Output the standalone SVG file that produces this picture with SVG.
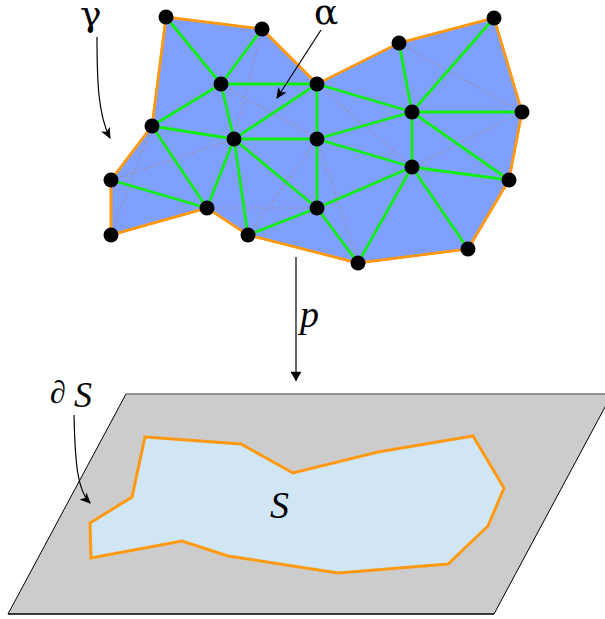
<svg xmlns="http://www.w3.org/2000/svg" width="605" height="619" viewBox="0 0 605 619">
<defs>
<style>
.tri{stroke:#11ee11;stroke-width:2.8;fill:none;stroke-linecap:round}
.dot{stroke:#9a90a0;stroke-width:1.2;stroke-dasharray:2.5,2.5;fill:none}
.bd{stroke:#ff9911;stroke-width:2.5;fill:#80a0ff;stroke-linejoin:round}
.node{fill:#000000}
.arr{stroke:#000000;stroke-width:1.2;fill:none}
</style>
<marker id="ah" viewBox="0 0 10 10" refX="9" refY="5" markerWidth="11" markerHeight="11" markerUnits="userSpaceOnUse" orient="auto">
<path d="M0,0.5 L10,5 L0,9.5 L2.5,5 Z" fill="#000000"/>
</marker>
<marker id="ah2" viewBox="0 0 10 12" refX="10" refY="6" markerWidth="13" markerHeight="11" markerUnits="userSpaceOnUse" orient="auto">
<path d="M0,0 L10,6 L0,12 Z" fill="#000000"/>
</marker>
</defs>
<g id="plane">
<polygon points="126,394 612,394 494,614 8,614" fill="#cccccc" stroke="none"/>
<line x1="126" y1="394" x2="612" y2="394" stroke="#777777" stroke-width="1.5"/>
<line x1="126" y1="394" x2="8" y2="614" stroke="#000000" stroke-width="1"/>
<line x1="612" y1="394" x2="494" y2="614" stroke="#000000" stroke-width="1"/>
<line x1="8" y1="614" x2="494" y2="614" stroke="#000000" stroke-width="1.5"/>
</g>
<g id="region-S">
<polygon points="145,437 241,444 293,473 378,452 473,436 504,488 488,526 448,564 338,573 228,556 182,541 91,558 90,523 132,497" fill="#d0e6f4" stroke="#ff9911" stroke-width="3" stroke-linejoin="miter"/>
</g>
<g id="mesh">
<polygon class="bd" points="166,17 262,29 317,84 399,43 494,18 522,112 509,180 468,249 358,263 248,235 207,208 111,235 111,180 152,126"/>
<g id="dotted-edges">
<line class="dot" x1="262" y1="29" x2="234" y2="139"/>
<line class="dot" x1="221" y1="84" x2="317" y2="139"/>
<line class="dot" x1="111" y1="180" x2="234" y2="139"/>
<line class="dot" x1="152" y1="126" x2="111" y2="235"/>
<line class="dot" x1="207" y1="208" x2="317" y2="208"/>
<line class="dot" x1="317" y1="139" x2="248" y2="235"/>
<line class="dot" x1="317" y1="84" x2="412" y2="167"/>
<line class="dot" x1="399" y1="43" x2="522" y2="112"/>
<line class="dot" x1="522" y1="112" x2="412" y2="167"/>
<line class="dot" x1="317" y1="139" x2="358" y2="263"/>
</g>
<g id="edges">
<line class="tri" x1="166" y1="17" x2="221" y2="84"/>
<line class="tri" x1="262" y1="29" x2="221" y2="84"/>
<line class="tri" x1="221" y1="84" x2="317" y2="84"/>
<line class="tri" x1="221" y1="84" x2="152" y2="126"/>
<line class="tri" x1="221" y1="84" x2="234" y2="139"/>
<line class="tri" x1="317" y1="84" x2="234" y2="139"/>
<line class="tri" x1="152" y1="126" x2="234" y2="139"/>
<line class="tri" x1="152" y1="126" x2="207" y2="208"/>
<line class="tri" x1="234" y1="139" x2="317" y2="139"/>
<line class="tri" x1="234" y1="139" x2="207" y2="208"/>
<line class="tri" x1="234" y1="139" x2="317" y2="208"/>
<line class="tri" x1="234" y1="139" x2="248" y2="235"/>
<line class="tri" x1="111" y1="180" x2="207" y2="208"/>
<line class="tri" x1="248" y1="235" x2="317" y2="208"/>
<line class="tri" x1="317" y1="208" x2="317" y2="139"/>
<line class="tri" x1="317" y1="139" x2="317" y2="84"/>
<line class="tri" x1="317" y1="84" x2="412" y2="112"/>
<line class="tri" x1="399" y1="43" x2="412" y2="112"/>
<line class="tri" x1="494" y1="18" x2="412" y2="112"/>
<line class="tri" x1="412" y1="112" x2="522" y2="112"/>
<line class="tri" x1="412" y1="112" x2="317" y2="139"/>
<line class="tri" x1="412" y1="112" x2="412" y2="167"/>
<line class="tri" x1="412" y1="112" x2="509" y2="180"/>
<line class="tri" x1="317" y1="139" x2="412" y2="167"/>
<line class="tri" x1="317" y1="208" x2="412" y2="167"/>
<line class="tri" x1="412" y1="167" x2="509" y2="180"/>
<line class="tri" x1="412" y1="167" x2="358" y2="263"/>
<line class="tri" x1="412" y1="167" x2="468" y2="249"/>
<line class="tri" x1="317" y1="208" x2="358" y2="263"/>
</g>
<polygon points="166,17 262,29 317,84 399,43 494,18 522,112 509,180 468,249 358,263 248,235 207,208 111,235 111,180 152,126" fill="none" stroke="#ff9911" stroke-width="2.5" stroke-linejoin="round"/>
</g>
<g id="nodes">
<circle id="n1" class="node" cx="166" cy="17" r="7.5"/>
<circle id="n2" class="node" cx="262" cy="29" r="7.5"/>
<circle id="n3" class="node" cx="221" cy="84" r="7.5"/>
<circle id="n4" class="node" cx="317" cy="84" r="7.5"/>
<circle id="n5" class="node" cx="399" cy="43" r="7.5"/>
<circle id="n6" class="node" cx="494" cy="18" r="7.5"/>
<circle id="n7" class="node" cx="152" cy="126" r="7.5"/>
<circle id="n8" class="node" cx="234" cy="139" r="7.5"/>
<circle id="n9" class="node" cx="317" cy="139" r="7.5"/>
<circle id="n10" class="node" cx="412" cy="112" r="7.5"/>
<circle id="n11" class="node" cx="522" cy="112" r="7.5"/>
<circle id="n12" class="node" cx="111" cy="180" r="7.5"/>
<circle id="n13" class="node" cx="207" cy="208" r="7.5"/>
<circle id="n14" class="node" cx="317" cy="208" r="7.5"/>
<circle id="n15" class="node" cx="412" cy="167" r="7.5"/>
<circle id="n16" class="node" cx="509" cy="180" r="7.5"/>
<circle id="n17" class="node" cx="111" cy="235" r="7.5"/>
<circle id="n18" class="node" cx="248" cy="235" r="7.5"/>
<circle id="n19" class="node" cx="358" cy="263" r="7.5"/>
<circle id="n20" class="node" cx="468" cy="249" r="7.5"/>
</g>
<g id="connectors">
<path class="arr" d="M97,37 C97,80 98,115 110,138" marker-end="url(#ah)"/>
<line class="arr" x1="321" y1="30" x2="277" y2="98" marker-end="url(#ah)"/>
<line class="arr" x1="296" y1="257" x2="296" y2="381" stroke-width="1.5" marker-end="url(#ah2)"/>
<path class="arr" d="M74,415 C75,460 77,490 90,503" marker-end="url(#ah)"/>
</g>
<g id="labels">
<text x="80" y="26" font-family="'DejaVu Serif', serif" font-size="36">γ</text>
<text x="314" y="24" font-family="'DejaVu Serif', serif" font-size="36">α</text>
<text x="300" y="327" font-family="'Liberation Serif', serif" font-size="38" font-style="italic">p</text>
<text x="50" y="403" font-family="'Liberation Serif', serif" font-size="32" font-style="italic">∂</text>
<text x="74" y="407" font-family="'Liberation Serif', serif" font-size="36" font-style="italic">S</text>
<text x="270" y="518" font-family="'Liberation Serif', serif" font-size="38" font-style="italic">S</text>
</g>
</svg>
